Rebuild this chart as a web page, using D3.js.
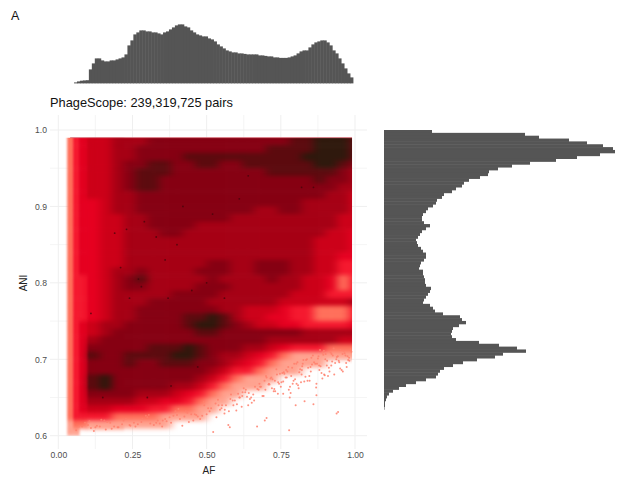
<!DOCTYPE html>
<html><head><meta charset="utf-8">
<script src="https://cdn.jsdelivr.net/npm/d3@7"></script>
<style>html,body{margin:0;background:#fff}svg{display:block;font-family:"Liberation Sans",Arial,sans-serif}</style>
</head><body><svg id="c" width="634" height="484"></svg>
<script>
const panelLabel = "A";
const chartTitle = "PhageScope: 239,319,725 pairs";
const xTitle = "AF", yTitle = "ANI";
const xTicks = [0, 0.25, 0.5, 0.75, 1];
const xMinor = [0.125, 0.375, 0.625, 0.875];
const yTicks = [0.6, 0.7, 0.8, 0.9, 1.0];
const yMinor = [0.65, 0.75, 0.85, 0.95];

// AF bin edges of the density grid (26 columns)
const afEdges = [0.03,0.05,0.07,0.10,0.14,0.18,0.22,0.26,0.30,0.34,0.38,0.42,0.46,0.50,0.54,0.58,0.62,0.66,0.70,0.74,0.78,0.82,0.86,0.90,0.94,0.98,0.99];
// ANI bin centres, top to bottom
const aniCentres = [0.985,0.975,0.965,0.955,0.945,0.935,0.925,0.915,0.905,0.895,0.885,0.875,0.865,0.855,0.845,0.835,0.825,0.815,0.805,0.795,0.785,0.775,0.765,0.755,0.745,0.735,0.725,0.715,0.705,0.695,0.685,0.675,0.665,0.655,0.645,0.635,0.625,0.615,0.605];
// density class of each cell
const densityLevels = [
[2,3,4,5,5,6,6,6,7,7,7,7,7,7,7,7,7,7,7,7,8,8,9,9,9,8],
[2,3,4,5,5,6,6,7,7,7,7,7,7,7,7,7,7,7,8,8,8,8,9,9,9,8],
[2,3,4,5,5,6,6,7,7,7,7,8,8,8,8,8,8,8,8,8,8,9,9,9,9,8],
[2,3,4,5,5,6,7,7,8,8,7,7,8,8,7,7,8,8,8,8,8,8,9,9,8,7],
[2,3,4,5,5,6,7,8,8,8,7,7,7,7,7,7,7,7,8,8,8,8,8,8,7,6],
[2,3,4,5,5,6,7,8,8,7,7,7,7,7,7,7,7,7,7,7,7,7,8,7,7,6],
[2,3,4,5,5,6,7,8,8,7,7,7,7,7,7,7,7,7,7,7,7,7,7,7,6,6],
[2,3,4,5,5,6,6,7,7,7,7,7,7,7,7,7,7,7,7,7,7,7,7,6,6,5],
[2,3,4,4,5,6,6,7,7,7,7,7,7,7,7,7,7,7,7,7,7,6,6,6,6,5],
[2,3,4,4,5,6,6,7,7,7,7,7,7,7,7,7,7,6,6,7,7,6,6,6,6,5],
[2,3,4,4,5,5,6,6,7,7,7,7,7,7,7,6,6,6,6,6,6,6,6,6,5,5],
[2,3,4,4,5,5,6,6,7,7,7,7,6,6,6,6,6,6,6,6,6,6,6,6,5,5],
[2,3,4,4,5,5,6,6,6,7,7,6,6,6,6,6,6,6,6,6,6,6,6,5,5,4],
[2,3,4,4,5,5,6,6,6,6,6,6,6,6,6,6,6,6,6,6,6,6,5,5,5,4],
[2,3,4,4,5,5,6,6,6,6,6,6,6,6,6,6,6,6,6,6,6,6,5,5,5,4],
[2,3,4,4,5,5,6,6,6,6,6,6,6,6,6,6,6,6,6,6,6,6,5,5,4,4],
[2,3,4,4,5,5,6,6,6,6,6,6,6,7,7,6,6,7,7,7,6,6,5,5,3,3],
[2,3,4,4,5,6,6,7,6,6,6,6,7,7,7,6,6,7,7,7,6,6,5,5,3,3],
[2,3,3,4,5,6,7,8,6,6,6,6,6,7,6,6,6,6,7,6,6,5,5,4,2,3],
[2,3,3,4,5,6,7,7,6,6,6,6,7,7,7,6,6,6,6,6,6,5,5,4,2,3],
[2,3,3,4,5,6,6,6,6,6,7,7,7,7,6,6,6,6,6,6,5,5,5,3,3,3],
[2,3,3,4,5,6,6,6,7,7,7,7,7,6,6,6,6,6,6,5,5,5,5,5,5,6],
[2,3,3,4,5,6,6,7,7,7,7,7,7,7,6,6,5,5,5,4,3,3,2,2,2,3],
[2,3,3,4,5,6,6,7,7,7,7,8,8,9,8,6,5,5,4,4,3,3,2,2,2,3],
[2,3,4,5,6,6,7,7,7,7,7,8,9,9,8,7,6,5,5,4,4,3,3,3,3,4],
[2,3,4,5,6,7,7,7,7,7,7,7,8,8,7,7,7,7,7,7,7,6,6,6,6,6],
[2,3,4,6,7,7,7,7,7,7,7,7,7,7,7,7,7,7,6,6,6,6,6,6,5,5],
[2,3,4,7,7,7,7,7,8,8,8,9,8,7,7,7,6,6,5,4,3,3,3,2,2,2],
[2,3,4,8,7,7,8,8,8,8,9,9,8,7,6,6,5,4,3,2,1,1,1,1,1,1],
[2,3,4,7,7,7,8,7,7,8,8,8,7,7,6,5,4,3,2,1,1,1,1,0,0,0],
[2,3,4,7,7,7,7,7,7,7,7,7,7,6,5,3,3,2,1,1,1,0,0,0,0,0],
[2,3,4,8,9,7,7,7,7,7,7,7,6,5,3,2,1,1,1,0,0,0,0,0,0,0],
[2,3,4,8,9,7,7,7,7,7,6,6,5,3,2,1,1,1,0,0,0,0,0,0,0,0],
[2,3,4,7,7,7,7,6,6,6,5,4,3,2,1,1,0,0,0,0,0,0,0,0,0,0],
[2,3,4,6,6,6,6,5,5,4,4,3,2,1,1,0,0,0,0,0,0,0,0,0,0,0],
[2,3,4,5,5,4,4,4,3,3,2,2,1,1,0,0,0,0,0,0,0,0,0,0,0,0],
[2,3,3,3,3,2,2,2,2,1,1,1,1,0,0,0,0,0,0,0,0,0,0,0,0,0],
[1,2,2,1,1,1,1,1,1,1,0,0,0,0,0,0,0,0,0,0,0,0,0,0,0,0],
[1,1,0,0,0,0,0,0,0,0,0,0,0,0,0,0,0,0,0,0,0,0,0,0,0,0]];
const levelColours = ["none","#ffa28f","#ff6f5a","#f5182e","#e60020","#cc0018","#a60014","#860012","#5c0a0e","#2e180c"];

// isolated pairs below the dense cloud
const sparseAF =  [0.522,0.573,0.578,0.67,0.696,0.702,0.778,0.938,0.943,0.86,0.87,0.83,0.78,0.80,0.74,0.72,0.66,0.64,0.60,0.62,0.56,0.54,0.50,0.47,0.44,0.40,0.36,0.33,0.30,0.26,0.22,0.18,0.14,0.12,0.10,0.07,0.06,
0.98,0.97,0.95,0.93,0.92,0.90,0.89,0.88,0.87,0.85,0.84,0.82,0.81,0.79,0.77,0.76,0.75,0.73,0.71,0.70,0.68,0.65,0.63,0.61,0.59,0.58,0.55,0.53,0.51,0.49,0.46,0.43,0.41,0.38,0.35,0.31,0.28,0.24,0.20,0.16,0.13,0.11,0.08,
0.965,0.945,0.925,0.905,0.895,0.875,0.855,0.835,0.815,0.795,0.775,0.755,0.735,0.715,0.695,0.675,
0.985,0.975,0.962,0.955,0.942,0.933,0.921,0.914,0.906,0.898,0.891,0.884,0.877,0.869,0.862,0.853,0.846,0.838,0.829,0.822,0.812,0.806,0.798,0.788,0.781,0.772,0.766,0.758,0.747,0.741,0.728,0.722,0.708,0.688,0.663,0.642,0.625,0.606,
0.981,0.968,0.951,0.937,0.918,0.909,0.893,0.882,0.872,0.858,0.842,0.826,0.818,0.802,0.785,0.768,0.752,0.737,0.718,0.698,0.678,0.657,0.632,0.612,0.588,0.565,0.545,0.515,0.485,0.455,0.425,0.395,0.365,0.335,0.295,0.255,0.215,0.175,0.145,0.125,0.105,0.09,
0.972,0.958,0.947,0.928,0.912,0.901,0.887,0.866,0.851,0.833,0.821,0.808,0.793,0.777,0.762,0.744,0.731,0.712,0.692,0.671,0.652,0.636,0.618,0.595,0.575,0.552,0.533,0.505,0.478,0.448,0.418,0.388,0.352,0.322,0.283,0.243,0.203,0.165,
0.988,0.977,0.959,0.939,0.923,0.896,0.879,0.847,0.824,0.803,0.783,0.758,0.726,0.702,0.683,0.646,0.621,0.602,0.582,0.561,0.538,0.492,0.465,0.435,0.405,0.375,0.342,0.305,0.268,0.228,0.188,0.155];
const sparseANI = [0.605,0.614,0.611,0.612,0.620,0.623,0.607,0.629,0.631,0.641,0.653,0.645,0.650,0.640,0.655,0.662,0.646,0.640,0.633,0.652,0.629,0.640,0.628,0.625,0.618,0.627,0.622,0.617,0.624,0.612,0.620,0.609,0.612,0.606,0.614,0.612,0.607,
0.702,0.695,0.688,0.680,0.692,0.700,0.675,0.686,0.668,0.690,0.672,0.680,0.662,0.668,0.676,0.683,0.664,0.672,0.668,0.678,0.664,0.650,0.657,0.650,0.640,0.648,0.636,0.642,0.632,0.644,0.628,0.632,0.622,0.617,0.612,0.616,0.618,0.614,0.611,0.608,0.613,0.610,0.612,
0.708,0.698,0.705,0.692,0.711,0.701,0.693,0.699,0.687,0.694,0.690,0.682,0.687,0.675,0.672,0.660,
0.713,0.704,0.711,0.686,0.704,0.695,0.707,0.684,0.698,0.679,0.709,0.691,0.704,0.663,0.696,0.702,0.678,0.700,0.671,0.691,0.683,0.696,0.674,0.689,0.664,0.684,0.676,0.655,0.681,0.670,0.661,0.674,0.667,0.652,0.664,0.656,0.662,0.655,
0.698,0.705,0.712,0.700,0.709,0.678,0.706,0.712,0.694,0.705,0.689,0.699,0.670,0.694,0.678,0.686,0.670,0.680,0.676,0.660,0.668,0.654,0.660,0.650,0.646,0.640,0.634,0.636,0.626,0.620,0.625,0.632,0.619,0.620,0.626,0.617,0.615,0.617,0.621,0.611,0.619,0.617,
0.690,0.707,0.696,0.714,0.689,0.707,0.682,0.694,0.684,0.677,0.686,0.666,0.672,0.660,0.681,0.668,0.658,0.667,0.652,0.661,0.643,0.651,0.638,0.646,0.632,0.640,0.624,0.636,0.622,0.628,0.613,0.626,0.620,0.614,0.622,0.613,0.611,0.618,
0.710,0.699,0.684,0.703,0.697,0.680,0.692,0.672,0.694,0.668,0.656,0.671,0.658,0.676,0.664,0.648,0.657,0.641,0.654,0.634,0.647,0.640,0.627,0.630,0.635,0.624,0.616,0.627,0.615,0.622,0.612,0.620];
const sparseColour = "#ff7f6c";

// small very dense specks inside the cloud
const speckAF  = [0.27,0.28,0.21,0.33,0.40,0.19,0.45,0.36,0.29,0.11,0.15,0.42,0.52,0.61,0.64,0.50,0.56,0.37,0.47,0.24,0.30,0.23,0.38,0.82,0.86];
const speckANI = [0.805,0.795,0.820,0.860,0.850,0.865,0.790,0.830,0.880,0.760,0.650,0.900,0.890,0.910,0.940,0.800,0.780,0.780,0.690,0.780,0.650,0.870,0.665,0.925,0.925];
const speckColour = "#3a0608";

// marginal histogram of AF (first bin starts at 0.043, step 0.01)
const afBinsStart = 0.043;
const afCounts = [0,1,2,2.7,3,3.2,14,20,25,25,23,22,22,23,23,24,25,26,29,38,43,49,51,53,53,52,52,51,51,50,49,51,52,54,56,58,59,59,57,56,53,51,49,48,47,47,45,44,42,39,37,35,33,32,31,31,30,30,29.5,29,29,29,29,28,28,27.5,27,27,26,26,25.5,25.5,25.5,26,27,28,30,32,33,33,36,39,41,42,43,43,41,38,33,30,25,20,15,10,6];
// marginal histogram of ANI, top bin first
const aniCounts = [48,141,155,185,203,219,229,231,216,193,172,146,128,114,105,104,96,85,80,78,72,68,60,58,53,52,49,44,42,39,38,38,40,46,42,38,36,34,32,33,34,37,39,42,42,40,37,36,35,39,
39,40,41,41,42,47,46,44,42,40,39,46,49,51,59,76,78,82,75,69,68,67,68,72,95,115,133,142,119,111,93,79,69,60,56,54,52,42,32,22,15,9,5,3,2,1,1,0.5];

const svg = d3.select("#c");
const x = d3.scaleLinear().domain([0,1]).range([58.3,355]);
const y = d3.scaleLinear().domain([0.6,1]).range([435.7,130]);
const frame = {l:50,r:367,t:115,b:449};

// grid
const grid = svg.append("g").attr("stroke","#efefef").attr("fill","none");
grid.selectAll(".vmaj").data(xTicks).join("line").attr("x1",x).attr("x2",x).attr("y1",frame.t).attr("y2",frame.b).attr("stroke-width",1);
grid.selectAll(".vmin").data(xMinor).join("line").attr("x1",x).attr("x2",x).attr("y1",frame.t).attr("y2",frame.b).attr("stroke-width",0.6);
grid.selectAll(".hmaj").data(yTicks).join("line").attr("y1",y).attr("y2",y).attr("x1",frame.l).attr("x2",frame.r).attr("stroke-width",1);
grid.selectAll(".hmin").data(yMinor).join("line").attr("y1",y).attr("y2",y).attr("x1",frame.l).attr("x2",frame.r).attr("stroke-width",0.6);

const xAxis = svg.append("g").attr("transform",`translate(0,${frame.b})`)
  .call(d3.axisBottom(x).tickValues(xTicks).tickFormat(d3.format(".2f")).tickSize(0).tickPadding(3));
const yAxis = svg.append("g").attr("transform",`translate(${frame.l},0)`)
  .call(d3.axisLeft(y).tickValues(yTicks).tickFormat(d3.format(".1f")).tickSize(0).tickPadding(3));
[xAxis,yAxis].forEach(a=>{a.select(".domain").remove();a.selectAll("text").attr("fill","#4d4d4d").style("font-size","8.6px").style("font-family","inherit");});

// heat
const defs = svg.append("defs");
function softFilter(id,sx,sy){
  defs.append("filter").attr("id",id).attr("filterUnits","userSpaceOnUse")
    .attr("x",0).attr("y",0).attr("width",634).attr("height",484)
    .attr("color-interpolation-filters","sRGB")
    .append("feGaussianBlur").attr("stdDeviation",sx+" "+sy);
}
softFilter("softNarrow",1.3,2.2);
softFilter("softWide",4.5,2.2);
softFilter("histSoft",0.4,0.4);
defs.append("clipPath").attr("id","plotclip").append("rect")
  .attr("x",x(0.02)).attr("y",y(0.99)).attr("width",x(0.99)-x(0.02)).attr("height",y(0.6)-y(0.99));
const cells = [];
densityLevels.forEach((row,r)=>row.forEach((lv,c)=>{ if(lv>0) cells.push({r,c,lv}); }));
const colour = d3.scaleOrdinal().domain(d3.range(levelColours.length)).range(levelColours);
const clipG = svg.append("g").attr("clip-path","url(#plotclip)");
function drawCells(g,list){
  g.selectAll("rect").data(list).join("rect")
    .attr("x",d=>x(afEdges[d.c]))
    .attr("width",d=>x(d.c===afEdges.length-2?1.05:afEdges[d.c+1])-x(afEdges[d.c])+0.5)
    .attr("y",d=>y(d.r===0?1.03:aniCentres[d.r]+0.005))
    .attr("height",d=>y(aniCentres[d.r]-0.005)-y(d.r===0?1.03:aniCentres[d.r]+0.005)+0.5)
    .attr("fill",d=>colour(d.lv));
}
drawCells(clipG.append("g").attr("filter","url(#softNarrow)"),cells.filter(d=>d.c<=5));
drawCells(clipG.append("g").attr("filter","url(#softWide)"),cells.filter(d=>d.c>=3));
svg.append("g").selectAll("circle").data(d3.zip(speckAF,speckANI)).join("circle")
  .attr("cx",d=>x(d[0])).attr("cy",d=>y(d[1])).attr("r",0.9)
  .attr("fill",speckColour).attr("fill-opacity",0.7);
svg.append("g").selectAll("circle").data(d3.zip(sparseAF,sparseANI)).join("circle")
  .attr("cx",d=>x(d[0])).attr("cy",d=>y(d[1])).attr("r",1)
  .attr("fill",sparseColour).attr("fill-opacity",0.85);
svg.append("line").attr("x1",x(0.04)).attr("x2",x(0.99)).attr("y1",y(0.99)).attr("y2",y(0.99)).attr("stroke","#d9727c").attr("stroke-width",0.9);

// top marginal
const topBase = 83.4;
const hTop = d3.scaleLinear().domain([0,60]).range([0,60]);
const xBand = d3.scaleBand().domain(afCounts.map((_,i)=>i)).range([x(afBinsStart),x(afBinsStart+afCounts.length*0.01)]);
const hists = svg.append("g").attr("filter","url(#histSoft)");
hists.append("g").selectAll("rect").data(afCounts).join("rect")
  .attr("x",(d,i)=>xBand(i)).attr("width",xBand.bandwidth()+0.5)
  .attr("y",d=>topBase-hTop(d)).attr("height",d=>hTop(d)).attr("fill","#555");

// right marginal
const rightBase = 384;
const aniBand = d3.scaleBand().domain(aniCounts.map((_,i)=>i)).range([130,130+aniCounts.length*2.85]);
const wRight = d3.scaleLinear().domain([0,231]).range([0,231]);
hists.append("g").selectAll("rect").data(aniCounts).join("rect")
  .attr("y",(d,i)=>aniBand(i)).attr("height",aniBand.bandwidth()+0.5)
  .attr("x",rightBase).attr("width",d=>wRight(d)).attr("fill","#555");

// text
svg.append("text").attr("x",11).attr("y",20).attr("font-size",12.5).attr("fill","#111").text(panelLabel);
svg.append("text").attr("x",50).attr("y",107).attr("font-size",12.8).attr("fill","#111").text(chartTitle);
svg.append("text").attr("x",209).attr("y",474).attr("text-anchor","middle").attr("font-size",10).attr("fill","#222").text(xTitle);
svg.append("text").attr("transform","translate(27,283) rotate(-90)").attr("text-anchor","middle").attr("font-size",10).attr("fill","#222").text(yTitle);
</script></body></html>
